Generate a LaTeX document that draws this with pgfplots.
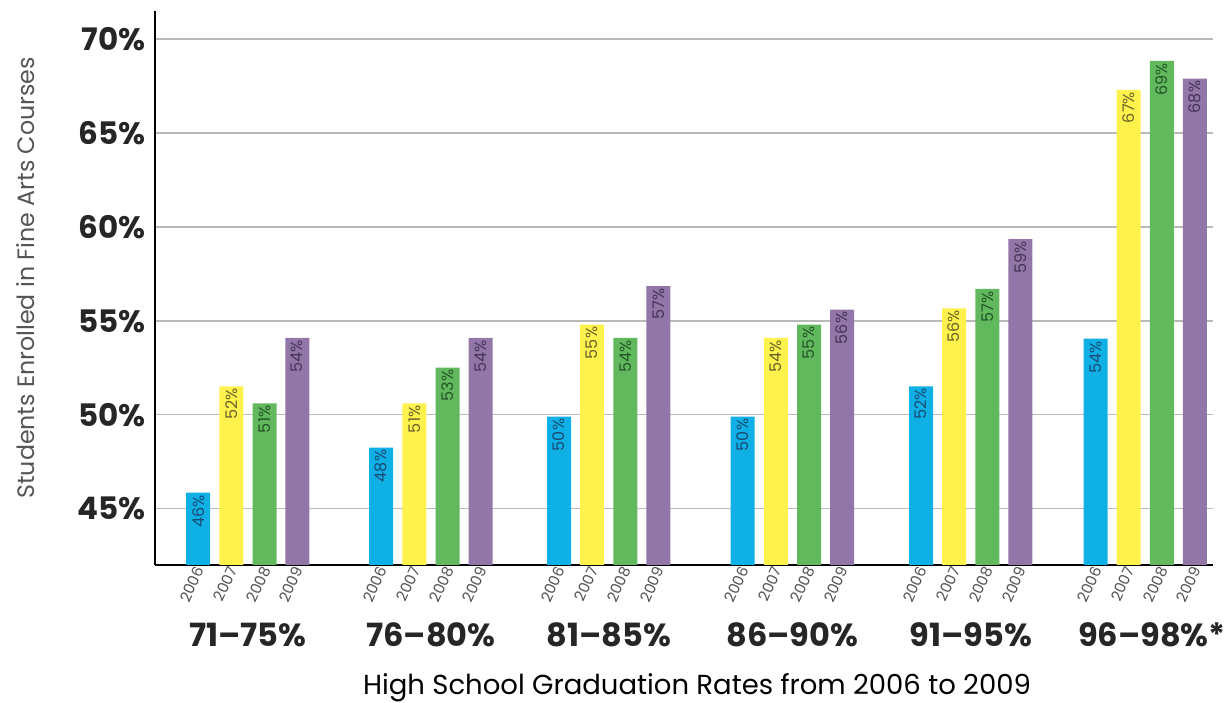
\documentclass[border=0pt]{standalone}
\usepackage{pgfplots}
\pgfplotsset{compat=1.18}
\usepackage{fontspec}
\setmainfont{Poppins}

\definecolor{c06}{RGB}{14,176,230}
\definecolor{c07}{RGB}{255,242,77}
\definecolor{c08}{RGB}{98,184,92}
\definecolor{c09}{RGB}{146,118,168}
\definecolor{t06}{RGB}{25,75,115}
\definecolor{t07}{RGB}{105,98,40}
\definecolor{t08}{RGB}{35,85,40}
\definecolor{t09}{RGB}{70,52,88}
\definecolor{gridgray}{RGB}{185,185,185}
\definecolor{labelgray}{RGB}{85,85,85}

\begin{document}
\begin{tikzpicture}
\useasboundingbox (0pt,0pt) rectangle (1226pt,703pt);
\begin{axis}[
  at={(155pt,138pt)}, anchor=south west,
  scale only axis, width=1058pt, height=554pt,
  xmin=155, xmax=1213, ymin=42, ymax=71.5,
  clip=false,
  ybar, bar shift=0pt, bar width=24,
  axis x line*=bottom, axis y line*=left,
  axis line style={-, line width=2.8pt, black},
  major tick length=0pt,
  ymajorgrids, grid style={gridgray, line width=1.4pt},
  ytick={45,50,55,60,65,70},
  yticklabels={45\%,50\%,55\%,60\%,65\%,70\%},
  yticklabel style={font=\bfseries\fontsize{31}{31}\selectfont, text=black!85, xshift=-6pt},
  xtick={201.2,234.3,267.5,300.3, 384.2,417.3,450.5,483.5, 562,595.1,628.3,661.3, 745.7,778.8,812,845, 924,957.1,990.3,1023.3, 1098.5,1131.6,1164.8,1197.8},
  xticklabels={2006,2007,2008,2009,2006,2007,2008,2009,2006,2007,2008,2009,2006,2007,2008,2009,2006,2007,2008,2009,2006,2007,2008,2009},
  xticklabel style={rotate=65, anchor=east, font=\fontsize{15}{15}\selectfont, text=black!68, inner sep=3pt},
  /pgf/number format/assume math mode=true,
  nodes near coords={\pgfmathprintnumber[fixed,precision=0,assume math mode=true]{\pgfplotspointmeta}\%},
  every node near coord/.append style={rotate=90, anchor=east, inner sep=2pt,
    font=\fontsize{16}{16}\selectfont},
]
% 2006
\addplot[fill=c06, draw=none, every node near coord/.append style={text=t06}] coordinates {
  (198.2,45.85) (381.2,48.25) (559,49.9) (742.7,49.9) (921,51.51) (1095.5,54.05)};
% 2007
\addplot[fill=c07, draw=none, every node near coord/.append style={text=t07}] coordinates {
  (231.3,51.51) (414.3,50.6) (592.1,54.8) (775.8,54.1) (954.1,55.67) (1128.6,67.3)};
% 2008
\addplot[fill=c08, draw=none, every node near coord/.append style={text=t08}] coordinates {
  (264.5,50.6) (447.5,52.51) (625.3,54.1) (809,54.8) (987.3,56.7) (1161.8,68.85)};
% 2009
\addplot[fill=c09, draw=none, every node near coord/.append style={text=t09}] coordinates {
  (297.3,54.1) (480.5,54.1) (658.3,56.85) (842,55.6) (1020.3,59.35) (1194.8,67.9)};

% graduation-rate group names
\begin{scope}[every node/.style={font=\bfseries\fontsize{32}{32}\selectfont, text=black!85}]
\node at (axis cs:247.9,38.27) {71–75\%};
\node at (axis cs:430.9,38.27) {76–80\%};
\node at (axis cs:608.7,38.27) {81–85\%};
\node at (axis cs:792.4,38.27) {86–90\%};
\node at (axis cs:970.7,38.27) {91–95\%};
\node at (axis cs:1152,38.27) {96–98\%*};
\end{scope}
\end{axis}
\node[font=\fontsize{27.5}{27.5}\selectfont] at (697pt,15pt) {High School Graduation Rates from 2006 to 2009};
\node[rotate=90, font=\fontsize{23.7}{23.7}\selectfont, text=labelgray] at (26pt,425pt) {Students Enrolled in Fine Arts Courses};
\end{tikzpicture}
\end{document}
